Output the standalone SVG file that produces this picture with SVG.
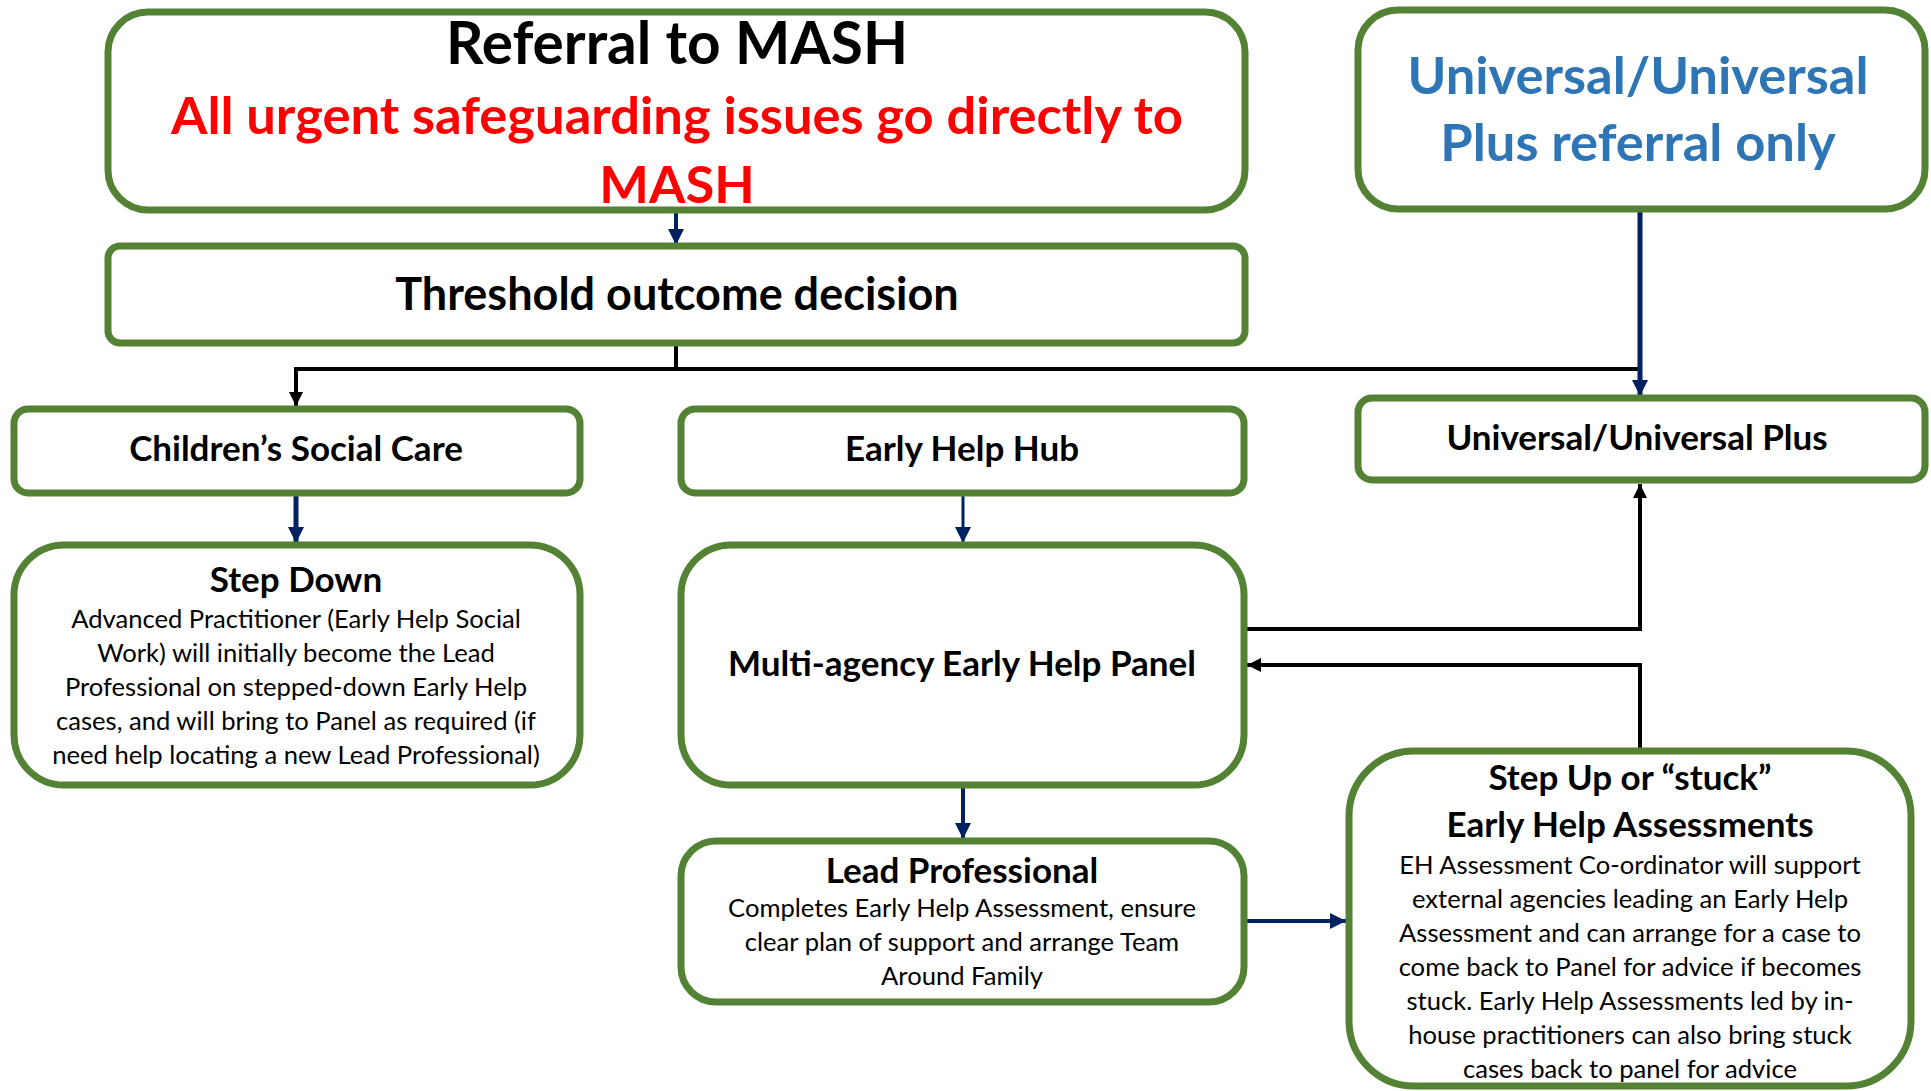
<svg xmlns="http://www.w3.org/2000/svg" width="1931" height="1091" viewBox="0 0 1931 1091">
<defs>
<style>
.box{fill:#ffffff;stroke:#548235;stroke-width:7}
.t{font-family:Lato,"Open Sans","Liberation Sans",sans-serif;text-anchor:middle;fill:#000000}
.b{font-weight:bold}
.h1{font-size:58.5px}
.red{fill:#FF0000;font-size:52.5px}
.blue{fill:#2E75B6;font-size:52.5px}
.h2{font-size:45px}
.h3{font-size:35px}
.body{font-size:25.6px}
.navy{stroke:#002060;fill:none}
.blk{stroke:#000000;fill:none;stroke-width:4}
</style>
<marker id="an" viewBox="0 0 10 10" refX="10" refY="5" markerUnits="userSpaceOnUse" markerWidth="16" markerHeight="16" orient="auto"><path d="M0,0 L10,5 L0,10 z" fill="#002060"/></marker>
<marker id="ab" viewBox="0 0 10 10" refX="10" refY="5" markerUnits="userSpaceOnUse" markerWidth="14" markerHeight="14" orient="auto"><path d="M0,0 L10,5 L0,10 z" fill="#000000"/></marker>
</defs>
<rect width="1931" height="1091" fill="#ffffff"/>
<g id="connectors">
<path class="navy" stroke-width="4" d="M676,212 V245" marker-end="url(#an)"/>
<path class="blk" d="M676,345 V369"/>
<path class="blk" d="M1640,369 H296 V406" marker-end="url(#ab)"/>
<path class="navy" stroke-width="5" d="M1640,211 V396" marker-end="url(#an)"/>
<path class="navy" stroke-width="5" d="M296,493 V543" marker-end="url(#an)"/>
<path class="navy" stroke-width="3" d="M963,493 V543" marker-end="url(#an)"/>
<path class="navy" stroke-width="4" d="M963,785 V839" marker-end="url(#an)"/>
<path class="navy" stroke-width="4" d="M1246,921 H1346" marker-end="url(#an)"/>
<path class="blk" d="M1246,629 H1640 V484" marker-end="url(#ab)"/>
<path class="blk" d="M1640,749 V665 H1247" marker-end="url(#ab)"/>
</g>
<g id="referral">
<rect class="box" x="108" y="12" width="1137" height="198" rx="40"/>
<text class="t b h1" x="677" y="64">Referral to MASH</text>
<text class="t b red" x="677" y="134">All urgent safeguarding issues go directly to</text>
<text class="t b red" x="677" y="203">MASH</text>
</g>
<g id="threshold">
<rect class="box" x="108" y="246" width="1137" height="97" rx="12"/>
<text class="t b h2" x="677" y="310">Threshold outcome decision</text>
</g>
<g id="universal-referral">
<rect class="box" x="1358" y="10" width="567" height="199" rx="40"/>
<text class="t b blue" x="1638" y="94">Universal/Universal</text>
<text class="t b blue" x="1638" y="161">Plus referral only</text>
</g>
<g id="universal-plus">
<rect class="box" x="1358" y="398" width="567" height="82" rx="14"/>
<text class="t b h3" x="1637" y="450">Universal/Universal Plus</text>
</g>
<g id="csc">
<rect class="box" x="14" y="409" width="566" height="84" rx="14"/>
<text class="t b h3" x="296" y="461">Children’s Social Care</text>
</g>
<g id="early-help-hub">
<rect class="box" x="681" y="409" width="563" height="84" rx="14"/>
<text class="t b h3" x="962" y="461">Early Help Hub</text>
</g>
<g id="step-down">
<rect class="box" x="14" y="545" width="566" height="240" rx="50"/>
<text class="t b h3" x="296" y="592">Step Down</text>
<text class="t body" x="296" y="628">Advanced Practitioner (Early Help Social</text>
<text class="t body" x="296" y="662">Work) will initially become the Lead</text>
<text class="t body" x="296" y="696">Professional on stepped-down Early Help</text>
<text class="t body" x="296" y="730">cases, and will bring to Panel as required (if</text>
<text class="t body" x="296" y="764">need help locating a new Lead Professional)</text>
</g>
<g id="panel">
<rect class="box" x="681" y="545" width="563" height="240" rx="50"/>
<text class="t b h3" x="962" y="676">Multi-agency Early Help Panel</text>
</g>
<g id="lead-professional">
<rect class="box" x="681" y="841" width="563" height="161" rx="35"/>
<text class="t b h3" x="962" y="883">Lead Professional</text>
<text class="t body" x="962" y="917">Completes Early Help Assessment, ensure</text>
<text class="t body" x="962" y="951">clear plan of support and arrange Team</text>
<text class="t body" x="962" y="985">Around Family</text>
</g>
<g id="step-up">
<rect class="box" x="1349" y="751" width="562" height="335" rx="65"/>
<text class="t b h3" x="1630" y="790">Step Up or “stuck”</text>
<text class="t b h3" x="1630" y="837">Early Help Assessments</text>
<text class="t body" x="1630" y="874">EH Assessment Co-ordinator will support</text>
<text class="t body" x="1630" y="908">external agencies leading an Early Help</text>
<text class="t body" x="1630" y="942">Assessment and can arrange for a case to</text>
<text class="t body" x="1630" y="976">come back to Panel for advice if becomes</text>
<text class="t body" x="1630" y="1010">stuck. Early Help Assessments led by in-</text>
<text class="t body" x="1630" y="1044">house practitioners can also bring stuck</text>
<text class="t body" x="1630" y="1078">cases back to panel for advice</text>
</g>
</svg>
